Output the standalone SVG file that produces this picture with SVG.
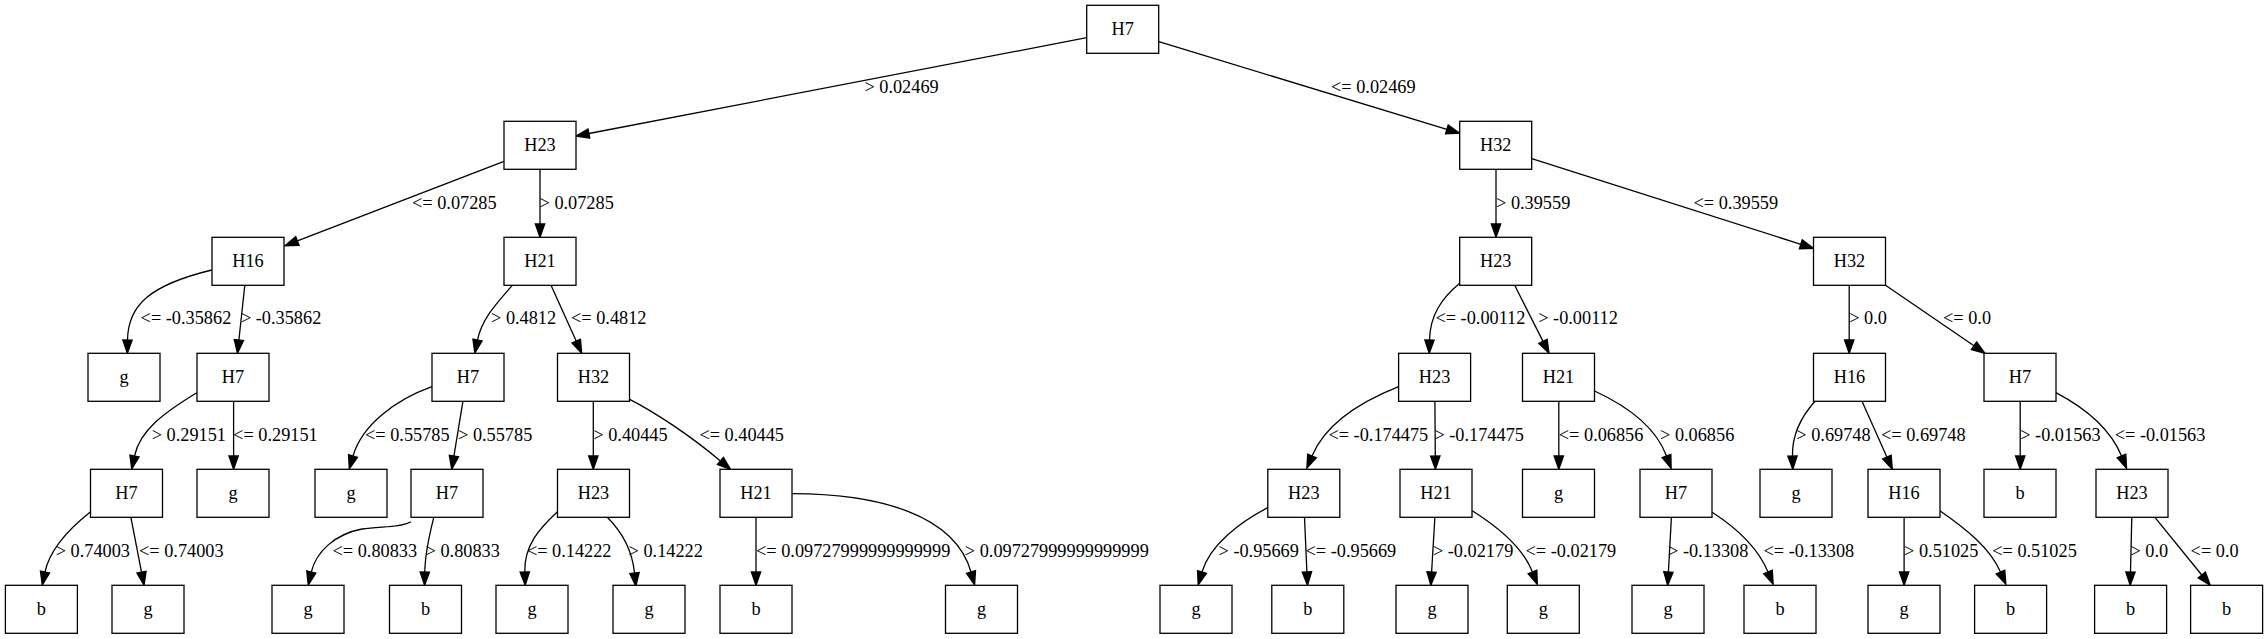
<svg xmlns="http://www.w3.org/2000/svg" width="2268" height="639" viewBox="0 0 2268 639">
<style>
.node rect{fill:#fff;stroke:#000;stroke-width:1.3}
.node text{text-anchor:middle}
text{font-family:"Liberation Serif","Times New Roman",serif;font-size:18.3px;fill:#000}
.edges path{fill:none;stroke:#000;stroke-width:1.3;marker-end:url(#ah)}
</style>
<defs>
<marker id="ah" markerUnits="userSpaceOnUse" markerWidth="16" markerHeight="12" refX="0" refY="5" orient="auto" overflow="visible">
<path d="M0,0.33 L13.33,5 L0,9.67 Z" fill="#000" stroke="#000" stroke-width="1.3"/>
</marker>
</defs>
<rect x="0" y="0" width="2268" height="639" fill="#fff"/>
<g class="edges" id="edges">
<path d="M1086.7,37.7 L588.9,133.5"/>
<path d="M1158.8,41.7 L1446.9,129.4"/>
<path d="M504,161.3 L297.4,240.9"/>
<path d="M540,169.3 L540,224"/>
<path d="M1496,169.3 L1496,224"/>
<path d="M1531.8,158.7 L1800.8,244.3"/>
<path d="M211.8,270 C150,285 128,305 127.5,340"/>
<path d="M244.8,285.3 L238.9,340"/>
<path d="M512.3,285.3 C498,302 482,318 477.5,340"/>
<path d="M551,285.3 L576.2,341.1"/>
<path d="M1459.7,283.3 C1442,298 1430,315 1429.5,340"/>
<path d="M1514.7,285.3 L1543,341.4"/>
<path d="M1849.2,285.3 L1849.2,340"/>
<path d="M1885.5,285.3 L1974,345.8"/>
<path d="M196.8,392.7 C165,412 140,430 134.5,456"/>
<path d="M233.6,401.3 L233.6,456"/>
<path d="M431.9,386.7 C395,400 362,425 353,456"/>
<path d="M462.9,401.3 L453.9,456.1"/>
<path d="M593.3,401.3 L593.3,456"/>
<path d="M629.6,399.3 C655,412 692,437 720.4,461"/>
<path d="M1398.6,386.7 C1360,402 1325,425 1312,456"/>
<path d="M1434.9,401.3 L1435.3,456"/>
<path d="M1558.8,401.3 L1558.8,456"/>
<path d="M1594.5,391 C1625,405 1655,425 1666.5,456"/>
<path d="M1815,401.3 C1800,418 1792,435 1792.5,456"/>
<path d="M1862,401.3 L1886.9,457.1"/>
<path d="M2020.2,401.3 L2020.2,456"/>
<path d="M2055.9,392.7 C2085,408 2110,428 2121.5,456"/>
<path d="M90.6,511.7 C70,528 50,548 45,572"/>
<path d="M130.9,517.3 L141.5,572.2"/>
<path d="M411,521.7 C400,528 380,526 362,529 C335,534 316,552 311.3,572"/>
<path d="M433.8,517.3 C428,540 425,558 424.8,572"/>
<path d="M557.4,511.7 C540,528 524,545 524.8,572"/>
<path d="M607.3,517.3 C620,530 632,548 634.5,573"/>
<path d="M756,517.3 L756,572"/>
<path d="M792.2,493.7 C880,494 955,515 971,572"/>
<path d="M1267.7,507.7 C1240,522 1210,545 1202,572"/>
<path d="M1304.5,517.3 L1306.9,572"/>
<path d="M1434.9,517.3 L1431.6,572"/>
<path d="M1472.2,510.7 C1495,525 1522,545 1532.5,572"/>
<path d="M1671.4,517.3 L1668.4,572"/>
<path d="M1712.1,512.3 C1735,527 1758,548 1768,572"/>
<path d="M1904.1,517.3 L1904.1,572"/>
<path d="M1939.8,510.7 C1965,528 1990,548 2000.5,572"/>
<path d="M2131.8,517.3 L2130.5,572"/>
<path d="M2154.9,517.3 L2201.8,575"/>
</g>
<g id="edge-labels">
<text x="864.4" y="92.5">&gt; 0.02469</text>
<text x="1331" y="92.5">&lt;= 0.02469</text>
<text x="412" y="208.5">&lt;= 0.07285</text>
<text x="539.5" y="208.5">&gt; 0.07285</text>
<text x="1496" y="208.5">&gt; 0.39559</text>
<text x="1693.5" y="208.5">&lt;= 0.39559</text>
<text x="140.6" y="324">&lt;= -0.35862</text>
<text x="240.9" y="324">&gt; -0.35862</text>
<text x="491" y="324">&gt; 0.4812</text>
<text x="571" y="324">&lt;= 0.4812</text>
<text x="1435.4" y="324">&lt;= -0.00112</text>
<text x="1538.2" y="324">&gt; -0.00112</text>
<text x="1849.2" y="324">&gt; 0.0</text>
<text x="1943" y="324">&lt;= 0.0</text>
<text x="151.7" y="440.7">&gt; 0.29151</text>
<text x="233.1" y="440.7">&lt;= 0.29151</text>
<text x="365" y="440.7">&lt;= 0.55785</text>
<text x="458" y="440.7">&gt; 0.55785</text>
<text x="593.3" y="440.7">&gt; 0.40445</text>
<text x="699.4" y="440.7">&lt;= 0.40445</text>
<text x="1328.4" y="440.7">&lt;= -0.174475</text>
<text x="1434.4" y="440.7">&gt; -0.174475</text>
<text x="1558.8" y="440.7">&lt;= 0.06856</text>
<text x="1660" y="440.7">&gt; 0.06856</text>
<text x="1796.3" y="440.7">&gt; 0.69748</text>
<text x="1881" y="440.7">&lt;= 0.69748</text>
<text x="2020.2" y="440.7">&gt; -0.01563</text>
<text x="2114.7" y="440.7">&lt;= -0.01563</text>
<text x="55.7" y="556.7">&gt; 0.74003</text>
<text x="139" y="556.7">&lt;= 0.74003</text>
<text x="332.5" y="556.7">&lt;= 0.80833</text>
<text x="425.6" y="556.7">&gt; 0.80833</text>
<text x="526.9" y="556.7">&lt;= 0.14222</text>
<text x="628.6" y="556.7">&gt; 0.14222</text>
<text x="756" y="556.7">&lt;= 0.09727999999999999</text>
<text x="964.8" y="556.7">&gt; 0.09727999999999999</text>
<text x="1218.5" y="556.7">&gt; -0.95669</text>
<text x="1305.5" y="556.7">&lt;= -0.95669</text>
<text x="1432.9" y="556.7">&gt; -0.02179</text>
<text x="1525.5" y="556.7">&lt;= -0.02179</text>
<text x="1668" y="556.7">&gt; -0.13308</text>
<text x="1763.5" y="556.7">&lt;= -0.13308</text>
<text x="1904.1" y="556.7">&gt; 0.51025</text>
<text x="1992.2" y="556.7">&lt;= 0.51025</text>
<text x="2130.4" y="556.7">&gt; 0.0</text>
<text x="2190.6" y="556.7">&lt;= 0.0</text>
</g>
<g class="node" id="n0"><rect x="1086.7" y="5.3" width="72" height="48"/><text x="1122.7" y="35.1">H7</text></g>
<g class="node" id="n1"><rect x="504" y="121.3" width="72" height="48"/><text x="540" y="151.1">H23</text></g>
<g class="node" id="n2"><rect x="1459.7" y="121.3" width="72" height="48"/><text x="1495.7" y="151.1">H32</text></g>
<g class="node" id="n3"><rect x="212" y="237.3" width="72" height="48"/><text x="248" y="267.1">H16</text></g>
<g class="node" id="n4"><rect x="504" y="237.3" width="72" height="48"/><text x="540" y="267.1">H21</text></g>
<g class="node" id="n5"><rect x="1459.7" y="237.3" width="72" height="48"/><text x="1495.7" y="267.1">H23</text></g>
<g class="node" id="n6"><rect x="1813.5" y="237.3" width="72" height="48"/><text x="1849.5" y="267.1">H32</text></g>
<g class="node" id="n7"><rect x="88" y="353.3" width="72" height="48"/><text x="124" y="383.1">g</text></g>
<g class="node" id="n8"><rect x="197" y="353.3" width="72" height="48"/><text x="233" y="383.1">H7</text></g>
<g class="node" id="n9"><rect x="432" y="353.3" width="72" height="48"/><text x="468" y="383.1">H7</text></g>
<g class="node" id="n10"><rect x="557.5" y="353.3" width="72" height="48"/><text x="593.5" y="383.1">H32</text></g>
<g class="node" id="n11"><rect x="1398.6" y="353.3" width="72" height="48"/><text x="1434.6" y="383.1">H23</text></g>
<g class="node" id="n12"><rect x="1522.5" y="353.3" width="72" height="48"/><text x="1558.5" y="383.1">H21</text></g>
<g class="node" id="n13"><rect x="1813.5" y="353.3" width="72" height="48"/><text x="1849.5" y="383.1">H16</text></g>
<g class="node" id="n14"><rect x="1984" y="353.3" width="72" height="48"/><text x="2020" y="383.1">H7</text></g>
<g class="node" id="n15"><rect x="90.5" y="469.3" width="72" height="48"/><text x="126.5" y="499.1">H7</text></g>
<g class="node" id="n16"><rect x="197" y="469.3" width="72" height="48"/><text x="233" y="499.1">g</text></g>
<g class="node" id="n17"><rect x="315" y="469.3" width="72" height="48"/><text x="351" y="499.1">g</text></g>
<g class="node" id="n18"><rect x="411" y="469.3" width="72" height="48"/><text x="447" y="499.1">H7</text></g>
<g class="node" id="n19"><rect x="557.5" y="469.3" width="72" height="48"/><text x="593.5" y="499.1">H23</text></g>
<g class="node" id="n20"><rect x="720" y="469.3" width="72" height="48"/><text x="756" y="499.1">H21</text></g>
<g class="node" id="n21"><rect x="1267.8" y="469.3" width="72" height="48"/><text x="1303.8" y="499.1">H23</text></g>
<g class="node" id="n22"><rect x="1400" y="469.3" width="72" height="48"/><text x="1436" y="499.1">H21</text></g>
<g class="node" id="n23"><rect x="1522.5" y="469.3" width="72" height="48"/><text x="1558.5" y="499.1">g</text></g>
<g class="node" id="n24"><rect x="1640" y="469.3" width="72" height="48"/><text x="1676" y="499.1">H7</text></g>
<g class="node" id="n25"><rect x="1760" y="469.3" width="72" height="48"/><text x="1796" y="499.1">g</text></g>
<g class="node" id="n26"><rect x="1868" y="469.3" width="72" height="48"/><text x="1904" y="499.1">H16</text></g>
<g class="node" id="n27"><rect x="1984" y="469.3" width="72" height="48"/><text x="2020" y="499.1">b</text></g>
<g class="node" id="n28"><rect x="2096" y="469.3" width="72" height="48"/><text x="2132" y="499.1">H23</text></g>
<g class="node" id="n29"><rect x="5.4" y="585.3" width="72" height="48"/><text x="41.4" y="615.1">b</text></g>
<g class="node" id="n30"><rect x="112" y="585.3" width="72" height="48"/><text x="148" y="615.1">g</text></g>
<g class="node" id="n31"><rect x="272" y="585.3" width="72" height="48"/><text x="308" y="615.1">g</text></g>
<g class="node" id="n32"><rect x="389.5" y="585.3" width="72" height="48"/><text x="425.5" y="615.1">b</text></g>
<g class="node" id="n33"><rect x="496" y="585.3" width="72" height="48"/><text x="532" y="615.1">g</text></g>
<g class="node" id="n34"><rect x="613" y="585.3" width="72" height="48"/><text x="649" y="615.1">g</text></g>
<g class="node" id="n35"><rect x="720" y="585.3" width="72" height="48"/><text x="756" y="615.1">b</text></g>
<g class="node" id="n36"><rect x="945.5" y="585.3" width="72" height="48"/><text x="981.5" y="615.1">g</text></g>
<g class="node" id="n37"><rect x="1160" y="585.3" width="72" height="48"/><text x="1196" y="615.1">g</text></g>
<g class="node" id="n38"><rect x="1271.8" y="585.3" width="72" height="48"/><text x="1307.8" y="615.1">b</text></g>
<g class="node" id="n39"><rect x="1396" y="585.3" width="72" height="48"/><text x="1432" y="615.1">g</text></g>
<g class="node" id="n40"><rect x="1507.3" y="585.3" width="72" height="48"/><text x="1543.3" y="615.1">g</text></g>
<g class="node" id="n41"><rect x="1632" y="585.3" width="72" height="48"/><text x="1668" y="615.1">g</text></g>
<g class="node" id="n42"><rect x="1744" y="585.3" width="72" height="48"/><text x="1780" y="615.1">b</text></g>
<g class="node" id="n43"><rect x="1868" y="585.3" width="72" height="48"/><text x="1904" y="615.1">g</text></g>
<g class="node" id="n44"><rect x="1974.6" y="585.3" width="72" height="48"/><text x="2010.6" y="615.1">b</text></g>
<g class="node" id="n45"><rect x="2094.6" y="585.3" width="72" height="48"/><text x="2130.6" y="615.1">b</text></g>
<g class="node" id="n46"><rect x="2190.6" y="585.3" width="72" height="48"/><text x="2226.6" y="615.1">b</text></g>
</svg>
